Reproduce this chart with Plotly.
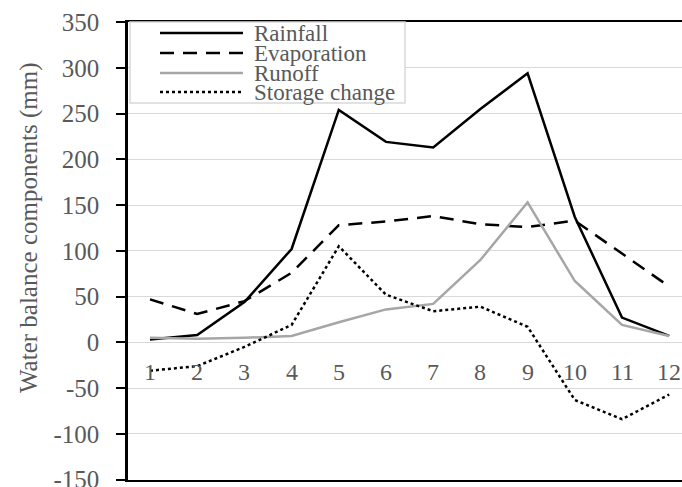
import plotly.graph_objects as go

months = [1, 2, 3, 4, 5, 6, 7, 8, 9, 10, 11, 12]
month_labels = [str(m) for m in months]
rainfall = [3, 8, 44, 102, 254, 219, 213, 255, 294, 137, 27, 7]
evaporation = [47, 31, 45, 76, 128, 132, 138, 129, 126, 133, 97, 61]
runoff = [5, 4, 5, 7, 22, 36, 42, 90, 153, 67, 19, 7]
storage = [-31, -26, -5, 19, 105, 52, 34, 39, 17, -63, -84, -57]
y_ticks = [-150, -100, -50, 0, 50, 100, 150, 200, 250, 300, 350]
y_tick_labels = [str(v) for v in y_ticks]

series = [
    ("Rainfall", rainfall, dict(color="black", width=2.5, dash="solid")),
    ("Evaporation", evaporation, dict(color="black", width=2.5, dash="14px,9px")),
    ("Runoff", runoff, dict(color="#a6a6a6", width=2.5, dash="solid")),
    ("Storage change", storage, dict(color="black", width=2.5, dash="dot")),
]

FONT = "Liberation Serif, Times New Roman, serif"
GREY = "#595959"

fig = go.Figure()
for name, vals, line in series:
    fig.add_trace(go.Scatter(x=months, y=vals, mode="lines", name=name,
                             line=line, showlegend=False))

W, H = 682, 487
ml, mr, mt, mb = 128, 0, 22, 7
px_per_cat = 47.2
x0 = 1 - (150 - ml) / px_per_cat
x1 = x0 + (W - ml - mr) / px_per_cat

pw = W - ml - mr
ph = H - mt - mb
def px2paper(px, py):
    return (px - ml) / pw, (H - mb - py) / ph

fig.update_layout(
    width=W, height=H,
    margin=dict(l=ml, r=mr, t=mt, b=mb, autoexpand=False),
    paper_bgcolor="white", plot_bgcolor="white",
    font=dict(family=FONT, size=24, color=GREY),
    xaxis=dict(range=[x0, x1], showgrid=False, showticklabels=False,
               zeroline=False, showline=True, mirror=True, automargin=False,
               linecolor="black", linewidth=2),
    yaxis=dict(range=[-150.4, 350], tickvals=y_ticks, ticktext=y_tick_labels,
               showgrid=True, automargin=False,
               gridcolor="#d9d9d9", gridwidth=1, zeroline=False,
               showline=True, linecolor="black", linewidth=2.5,
               ticks="outside", ticklen=9, tickwidth=2, tickcolor="black",
               ticklabelstandoff=12, ticklabeloverflow="allow",
               tickfont=dict(family=FONT, size=25, color=GREY)),
)

# x tick labels sitting just below the zero line
for m, lab in zip(months, month_labels):
    fig.add_annotation(x=m, y=-32, xref="x", yref="y", text=lab,
                       showarrow=False, font=dict(family=FONT, size=24, color=GREY),
                       xanchor="center", yanchor="middle")

# y axis title
ax, ay = px2paper(29, 228)
fig.add_annotation(x=ax, y=ay, xref="paper", yref="paper",
                   text="Water balance components (mm)",
                   showarrow=False, textangle=-90,
                   font=dict(family=FONT, size=25, color=GREY),
                   xanchor="center", yanchor="middle")

# custom legend box
lx0, ly0 = px2paper(130, 22)
lx1, ly1 = px2paper(405, 103)
fig.add_shape(type="rect", xref="paper", yref="paper", x0=lx0, y0=ly1, x1=lx1, y1=ly0,
              line=dict(color="#d9d9d9", width=1.5), fillcolor="white", layer="above")
rows = [33, 53, 73, 92]
for (name, vals, line), ry in zip(series, rows):
    sx0, sy = px2paper(160, ry)
    sx1, _ = px2paper(243, ry)
    fig.add_shape(type="line", xref="paper", yref="paper", x0=sx0, x1=sx1, y0=sy, y1=sy,
                  line=line, layer="above")
    tx, ty = px2paper(252, ry)
    fig.add_annotation(x=tx, y=ty, xref="paper", yref="paper", text=name, showarrow=False,
                       xanchor="left", yanchor="middle",
                       font=dict(family=FONT, size=23, color=GREY))

fig.write_html("out.html",
               config={"displayModeBar": False},
               post_script="document.body.style.margin='0px';document.body.style.overflow='hidden';")
